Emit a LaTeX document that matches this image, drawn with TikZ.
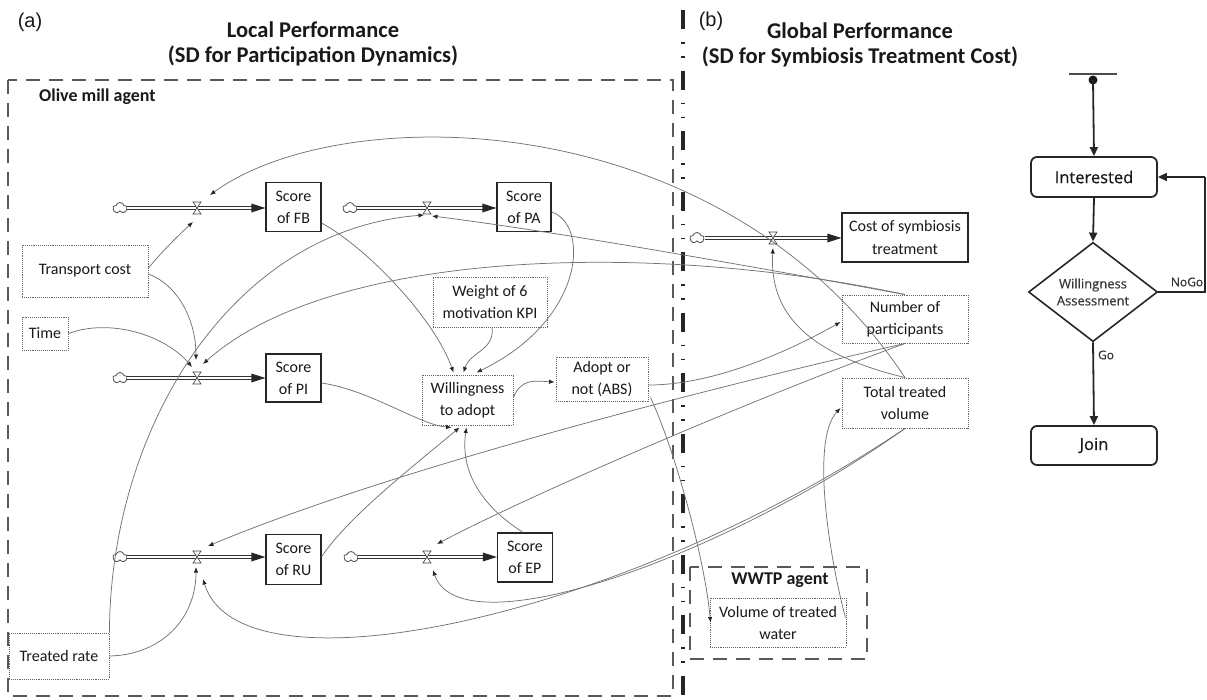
\documentclass[tikz,border=0pt]{standalone}
\usepackage{fontspec}
\setmainfont{Carlito}
\newfontfamily\osans[FakeBold=0.5]{Open Sans}
\newfontfamily\asans{Liberation Sans}
\usetikzlibrary{arrows.meta,shapes.geometric,shapes.symbols,calc}
\newcommand{\sdfont}{\fontsize{16}{22}\selectfont}

\tikzset{
  stock/.style={draw=black!85, line width=1.3pt, align=center, inner sep=0pt, font=\sdfont, text=black!90},
  aux/.style={draw=black!60, densely dotted, line width=0.9pt, align=center, inner sep=0pt, font=\sdfont, text=black!90},
  sdcloud/.style={cloud, cloud puffs=5, aspect=1.3, draw=black!70, line width=0.8pt, fill=white,
                  minimum width=14pt, minimum height=11pt, inner sep=0pt},
  valve/.style={circle, minimum size=22pt, inner sep=0pt},
  pipe/.style={draw=black!80, line width=1.1pt, double=white, double distance=1.3pt},
  conn/.style={draw=black!55, line width=0.75pt, -{Latex[length=5.5pt,width=4.5pt,color=black!85]}},
  agentbox/.style={draw=black!65, line width=1.4pt, dash pattern=on 14pt off 9pt},
  agentlabel/.style={font=\bfseries\fontsize{18}{20}\selectfont, text=black!90, inner sep=0pt},
  title/.style={font=\bfseries\fontsize{22.5}{25}\selectfont, align=center, text=black!90},
  panel/.style={font=\asans\fontsize{20}{22}\selectfont, text=black!90, inner sep=0pt},
  fcbox/.style={draw=black!85, line width=1.8pt, rounded corners=6pt, minimum width=126pt, minimum height=40pt,
                font=\osans\fontsize{16.5}{20}\selectfont, text=black!90},
  fcdia/.style={diamond, draw=black!85, line width=1.6pt, minimum width=129pt, minimum height=98pt, inner sep=0pt,
                align=center, font=\osans\fontsize{13}{17}\selectfont, text=black!78},
  fcline/.style={draw=black!85, line width=1.8pt},
  fcarrow/.style={fcline, -{Triangle[length=9pt,width=8pt]}},
  fclabel/.style={font=\osans\fontsize{12}{14}\selectfont, text=black!80, inner sep=0pt},
  pics/bowtie/.style={code={\draw[black!75, line width=0.6pt, fill=white] (-4,-6) -- (4,-6) -- (-4,6) -- (4,6) -- cycle;}}
}

\begin{document}
\begin{tikzpicture}[x=1pt,y=-1pt]
\useasboundingbox (0,0) rectangle (1207,699);

% ---------- headings ----------
\node[panel] (pla) at (30,22) {(a)};
\node[panel] (plb) at (711,21) {(b)};
\node[title] (ttl) at (313,44) {Local Performance\\(SD for Participation Dynamics)};
\node[title] (ttg) at (860,45) {Global Performance\\(SD for Symbiosis Treatment Cost)};

% ---------- agent frames and divider ----------
\draw[agentbox] (8,80) rectangle (673,696);
\node[agentlabel, anchor=west] (olive) at (39,97) {Olive mill agent};
\draw[agentbox] (690,567) rectangle (867,659);
\node[agentlabel] (wwtp) at (780,580) {WWTP agent};
\draw[black!85, line width=3.2pt, dash pattern=on 19pt off 13pt on 1.5pt off 12.5pt on 1.5pt off 13pt] (683,10) -- (683,699);

% ---------- stocks ----------
\node[stock, minimum width=55pt, minimum height=49pt] (fb) at (293.5,207) {Score\\of FB};
\node[stock, minimum width=54pt, minimum height=49pt] (pa) at (524,207) {Score\\of PA};
\node[stock, minimum width=55pt, minimum height=48pt] (pi) at (293.5,378) {Score\\of PI};
\node[stock, minimum width=55pt, minimum height=50pt] (ru) at (293.5,559.5) {Score\\of RU};
\node[stock, minimum width=55pt, minimum height=49pt] (ep) at (525,557.5) {Score\\of EP};
\node[stock, minimum width=126pt, minimum height=49pt] (cost) at (905,237.5) {Cost of symbiosis\\treatment};

% ---------- auxiliary variables ----------
\node[aux, minimum width=126pt, minimum height=52pt] (transport) at (85,271) {Transport cost};
\node[aux, minimum width=46pt, minimum height=33pt] (time) at (45,333.5) {Time};
\node[aux, minimum width=114pt, minimum height=50pt] (weight) at (490,302) {Weight of 6\\motivation KPI};
\node[aux, minimum width=91pt, minimum height=50pt] (will) at (467.5,400) {Willingness\\to adopt};
\node[aux, minimum width=92pt, minimum height=44pt] (adopt) at (602,379) {Adopt or\\not (ABS)};
\node[aux, minimum width=100pt, minimum height=46pt] (treated) at (59,656) {Treated rate};
\node[aux, minimum width=126pt, minimum height=48pt] (nump) at (905,319) {Number of\\participants};
\node[aux, minimum width=126pt, minimum height=50pt] (ttv) at (905,403) {Total treated\\volume};
\node[aux, minimum width=136pt, minimum height=49pt] (vol) at (778,622.5) {Volume of treated\\water};

% ---------- sources and valves ----------
\node[sdcloud] (cfb) at (120,208) {};
\node[sdcloud] (cpa) at (350,208) {};
\node[sdcloud] (cpi) at (120,378) {};
\node[sdcloud] (cru) at (120,557) {};
\node[sdcloud] (cep) at (351,557) {};
\node[sdcloud] (ccost) at (697,238) {};
\node[valve] (vfb) at (197,208) {};
\node[valve] (vpa) at (427,208) {};
\node[valve] (vpi) at (197,378) {};
\node[valve] (vru) at (197,557) {};
\node[valve] (vep) at (427,557) {};
\node[valve] (vcost) at (773,238) {};

% ---------- flows (pipe, valve, head) ----------
\foreach \c/\v/\s in {cfb/vfb/fb, cpa/vpa/pa, cpi/vpi/pi, cru/vru/ru, cep/vep/ep, ccost/vcost/cost}{
  \draw[pipe] (\c.east) -- ($(\c.east -| \s.west)+(-12,0)$);
  \fill[black!85] (\c.east -| \s.west) -- ++(-14,-4.5) -- ++(0,9) -- cycle;
  \pic at (\v) {bowtie};
}

% ---------- causal links ----------
\draw[conn] ($(transport.east)+(0,-3)$) .. controls (165,248) and (182,232) .. ($(vfb)+(-4,14)$);
\draw[conn] ($(transport.east)+(0,3)$) .. controls (178,285) and (196,320) .. ($(vpi)+(-1,-18)$);
\draw[conn] (time.east) .. controls (110,318) and (165,335) .. ($(vpi)+(-5,-11)$);
\draw[conn] (nump.north) .. controls (650,240) and (330,250) .. ($(vpi)+(6,-14)$);
\draw[conn] (nump.north) .. controls (760,268) and (560,232) .. ($(vpa)+(5,8)$);
\draw[conn] (ttv.north) .. controls (720,100) and (340,100) .. ($(vfb)+(13,-13)$);
\draw[conn] (ttv.north) .. controls (790,350) and (770,300) .. ($(vcost)+(0,10)$);
\draw[conn] (treated.north east) .. controls (110,430) and (230,230) .. ($(vpa)+(-3,7)$);
\draw[conn] (treated.east) .. controls (160,655) and (196,620) .. ($(vru)+(-1,10)$);

\draw[conn] ($(fb.east)+(0,16)$) .. controls (370,250) and (435,320) .. ($(will.north)+(-14,-2)$);
\draw[conn] ($(weight.south)+(2,0)$) .. controls (495,350) and (470,352) .. ($(will.north)+(-4,-2)$);
\draw[conn] ($(pa.east)+(0,5)$) .. controls (590,225) and (585,320) .. ($(will.north)+(9,-2)$);
\draw[conn] ($(pi.east)+(0,5)$) .. controls (370,390) and (420,425) .. ($(will.south)+(-16,2)$);
\draw[conn] ($(ru.east)+(0,-3)$) .. controls (350,515) and (415,465) .. ($(will.south)+(-8,2)$);
\draw[conn] ($(ep.north)+(-2,0)$) .. controls (480,505) and (460,470) .. ($(will.south)+(-1,2)$);

\draw[conn] ($(will.east)+(0,-3)$) .. controls (522,378) and (535,381) .. ($(adopt.west)+(-1,3)$);
\draw[conn] ($(adopt.east)+(0,6)$) .. controls (720,385) and (800,345) .. ($(nump.west)+(-1,3)$);
\draw[conn] ($(adopt.south east)+(2,-4)$) .. controls (675,450) and (705,560) .. ($(vol.west)+(1,0)$);
\draw[conn] ($(vol.east)+(-1,-5)$) .. controls (830,560) and (810,440) .. ($(ttv.west)+(-1,5)$);

\draw[conn] (nump.south) .. controls (700,390) and (390,470) .. ($(vru)+(11,-11)$);
\draw[conn] (nump.south) .. controls (750,400) and (530,495) .. ($(vep)+(10,-13)$);
\draw[conn] (ttv.south) .. controls (620,620) and (240,700) .. ($(vru)+(6,22)$);
\draw[conn] (ttv.south) .. controls (720,560) and (460,650) .. ($(vep)+(6,13)$);

% ---------- participation state chart ----------
\node[fcbox] (int) at (1094,177) {Interested};
\node[fcdia] (wa) at (1093,292) {Willingness\\Assessment};
\node[fcbox, minimum height=39pt] (join) at (1094,445.5) {Join};
\coordinate (st) at (1093,80);
\coordinate (loop) at (1205,177);
\draw[draw=black!70, line width=1.2pt] (1069,74) -- (1117,74);
\fill[black!90] (st) circle (4.5);
\draw[fcarrow] (st) -- (int.north);
\draw[fcarrow] (int.south) -- (wa.north);
\draw[fcarrow] (wa.south) -- (join.north);
\draw[fcline] (wa.east) -| (loop);
\draw[fcarrow] (loop) -- (int.east);
\node[fclabel] (nogo) at (1187,282) {NoGo};
\node[fclabel] (go) at (1106,355) {Go};
\end{tikzpicture}
\end{document}
